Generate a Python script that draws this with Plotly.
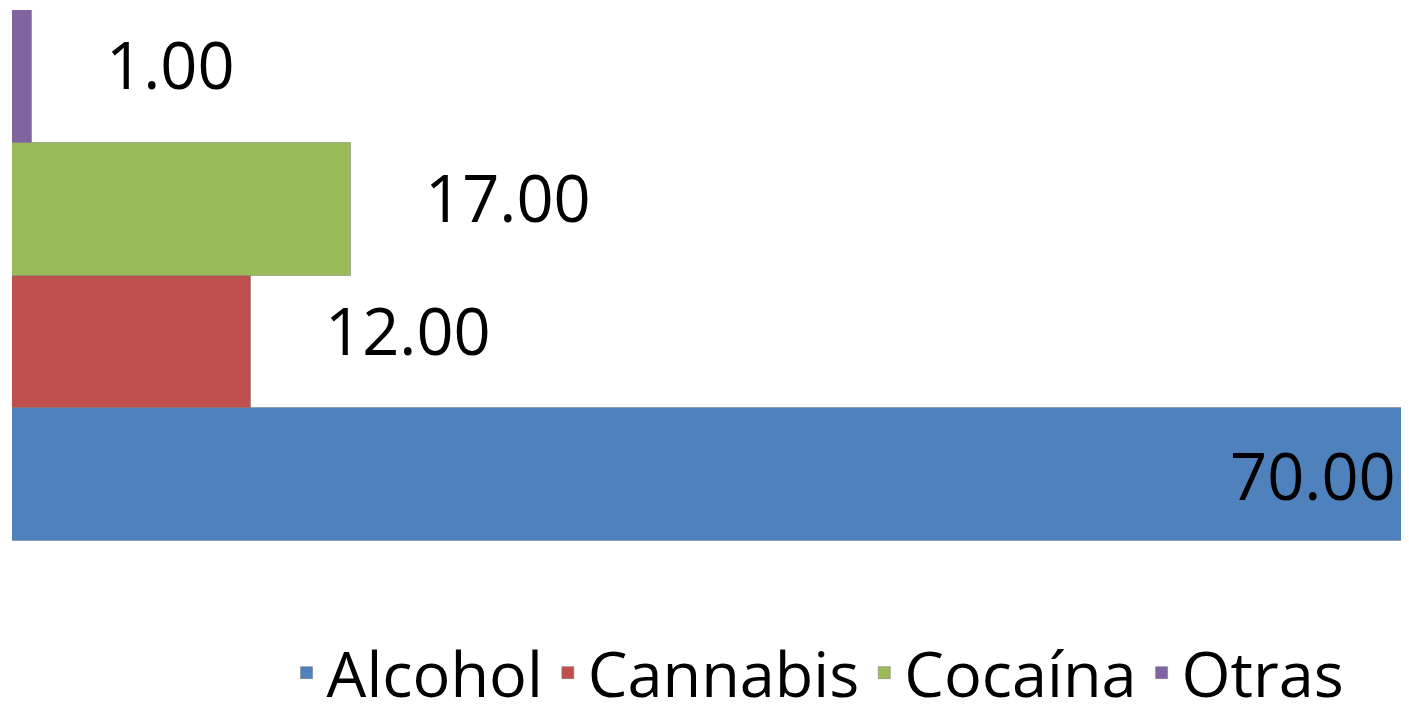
import plotly.graph_objects as go

# datos del gráfico
categorias = ["Alcohol", "Cannabis", "Cocaína", "Otras"]
valores = [70, 12, 17, 1]
colores = ["#4F81BD", "#C0504D", "#9BBB59", "#8064A2"]

FONT = "Open Sans"

fig = go.Figure()

for cat, val, col in zip(categorias, valores, colores):
    fig.add_trace(go.Bar(
        y=[cat],
        x=[val],
        orientation="h",
        name=cat,
        marker=dict(color=col, line=dict(color="rgba(120,120,120,0.5)", width=1)),
        hoverinfo="skip",
    ))

# etiquetas de datos
for cat, val in zip(categorias, valores):
    if val == max(valores):
        fig.add_annotation(x=val, y=cat, text=f"{val:.2f}", showarrow=False,
                           xanchor="right", xshift=-11, yshift=0,
                           font=dict(family=FONT, size=65, color="#000000"))
    else:
        fig.add_annotation(x=val, y=cat, text=f"{val:.2f}", showarrow=False,
                           xanchor="left", xshift=72, yshift=12,
                           font=dict(family=FONT, size=65, color="#000000"))

# la página tiene 8px de margen en el body
fig.update_layout(
    width=1401,
    height=710,
    barmode="overlay",
    bargap=0,
    plot_bgcolor="white",
    paper_bgcolor="white",
    margin=dict(l=4, r=0, t=2, b=177, autoexpand=False),
    showlegend=True,
    legend=dict(
        orientation="h",
        x=0.577, xanchor="center",
        y=-0.248, yanchor="middle",
        font=dict(family=FONT, size=63, color="#000000"),
        itemwidth=30,
        traceorder="normal",
    ),
    xaxis=dict(range=[0, 70], visible=False, fixedrange=True),
    yaxis=dict(categoryorder="array", categoryarray=categorias,
               showticklabels=False, showgrid=False, zeroline=False,
               showline=False, ticks=""),
)

fig.write_html("out.html")
